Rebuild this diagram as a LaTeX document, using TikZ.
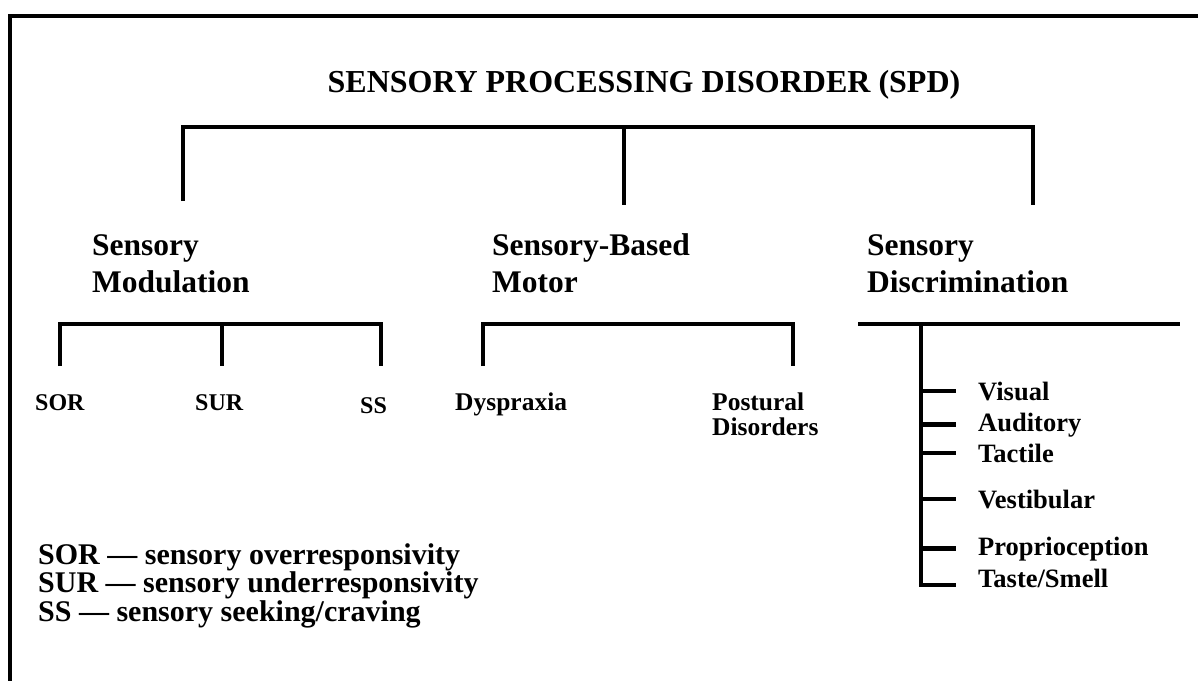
\documentclass[tikz,border=0pt]{standalone}
\usepackage{fontspec}
\setmainfont{Liberation Serif}
\begin{document}
\begin{tikzpicture}[x=1pt,y=-1pt]
    \tikzstyle{e} = [draw, line width=4.5pt]
    \tikzstyle{hd} = [anchor=base west, align=left, inner sep=0pt, font=\fontsize{31.5}{37}\selectfont\bfseries]
    \tikzstyle{lf} = [anchor=base west, align=left, inner sep=0pt, font=\fontsize{24}{25}\selectfont\bfseries]
    \tikzstyle{sn} = [anchor=base west, inner sep=0pt, font=\fontsize{26.5}{29}\selectfont\bfseries]
    \useasboundingbox (0,0) rectangle (1198,680);
    \fill [white] (0,0) rectangle (1198,680);
    \draw [line width=4pt] (10,690) -- (10,16) -- (1210,16);
    % title and main bracket
    \node (SPD) at (644,92) [anchor=base, inner sep=0pt, font=\fontsize{32}{38}\selectfont\bfseries] {SENSORY PROCESSING DISORDER (SPD)};
    \coordinate (hub) at (624,127);
    \coordinate (modtop) at (183,201);
    \coordinate (bmtop) at (624,205);
    \coordinate (distop) at (1033,205);
    \draw [e] (modtop) |- (hub) -| (distop);
    \draw [e] (hub) -- (bmtop);
    % three groups
    \node (mod) at (92,292) [hd] {Sensory\\Modulation};
    \node (bm) at (492,292) [hd] {Sensory-Based\\Motor};
    \node (dis) at (867,292) [hd] {Sensory\\Discrimination};
    % modulation
    \node (SOR) at (35,410) [lf] {SOR};
    \node (SUR) at (195,410) [lf] {SUR};
    \node (SS) at (360,413) [lf] {SS};
    \coordinate (mh) at (222,324);
    \coordinate (m1) at (60,366);
    \coordinate (m2) at (222,366);
    \coordinate (m3) at (381,366);
    \draw [e] (m1) |- (mh) -| (m3);
    \draw [e] (mh) -- (m2);
    % motor
    \node (dys) at (455,410) [lf, font=\fontsize{25.5}{25}\selectfont\bfseries] {Dyspraxia};
    \node (pos) at (712,435) [lf, font=\fontsize{25.5}{25}\selectfont\bfseries] {Postural\\Disorders};
    \coordinate (b1) at (483,366);
    \coordinate (b2) at (793,366);
    \coordinate (bh) at (638,324);
    \draw [e] (b1) |- (bh) -| (b2);
    % discrimination
    \coordinate (dl) at (858,324);
    \coordinate (dr) at (1180,324);
    \coordinate (dv) at (921,324);
    \coordinate (dend) at (956,585);
    \draw [e] (dl) -- (dr);
    \draw [e] (dv) |- (dend);
    \node (vis) at (978,400) [sn] {Visual};
    \node (aud) at (978,431) [sn] {Auditory};
    \node (tac) at (978,462) [sn] {Tactile};
    \node (ves) at (978,508) [sn] {Vestibular};
    \node (pro) at (978,555) [sn] {Proprioception};
    \node (tas) at (978,587) [sn] {Taste/Smell};
    \foreach \n in {vis,aud,tac,ves,pro}
        \draw [e] (dv |- \n.west) -- ++(35,0);
    % legend
    \node (leg) at (38,621) [anchor=base west, align=left, inner sep=0pt, font=\fontsize{30}{25.5}\selectfont\bfseries] {SOR — sensory overresponsivity\\SUR — sensory underresponsivity\\SS — sensory seeking/craving};
\end{tikzpicture}
\end{document}
